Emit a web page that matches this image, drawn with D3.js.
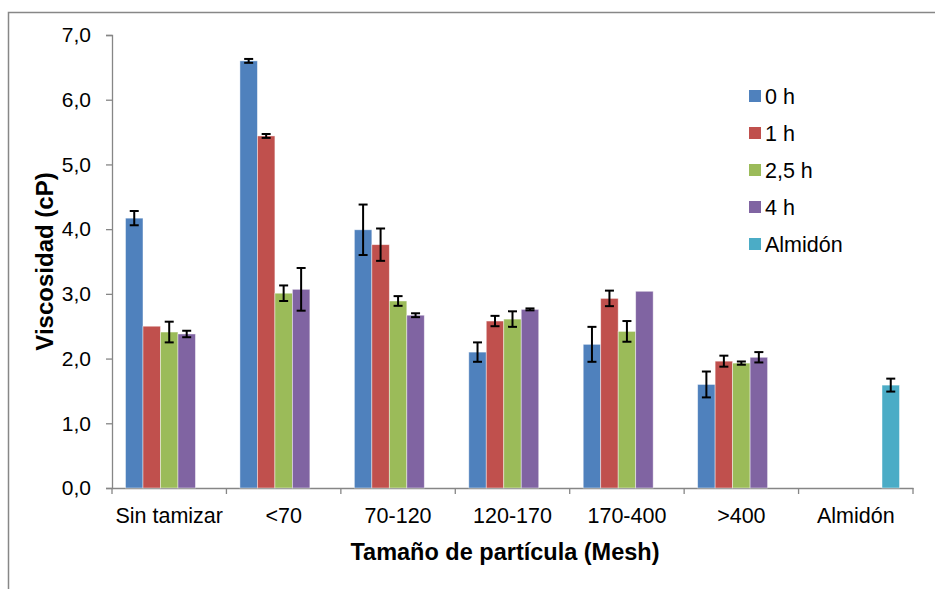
<!DOCTYPE html>
<html>
<head>
<meta charset="utf-8">
<script src="https://cdn.jsdelivr.net/npm/d3@7"></script>
<style>
  body { margin: 0; background: #fff; }
  svg { display: block; font-family: Arial, "Liberation Sans", sans-serif; }
</style>
</head>
<body>
<div id="chart"></div>
<script>
// categories and series
const categories = ["Sin tamizar", "<70", "70-120", "120-170", "170-400", ">400", "Almidón"];
const seriesNames = ["0 h", "1 h", "2,5 h", "4 h", "Almidón"];
const seriesColors = ["#4F81BD", "#C0504D", "#9BBB59", "#8064A2", "#4BACC6"];

// mean viscosity (cP), one array per series (null = no bar)
const values0h = [4.17, 6.60, 3.99, 2.10, 2.22, 1.60, null];
const values1h = [2.50, 5.44, 3.76, 2.58, 2.93, 1.96, null];
const values25h = [2.41, 3.01, 2.89, 2.61, 2.42, 1.93, null];
const values4h = [2.38, 3.07, 2.67, 2.76, 3.04, 2.02, null];
const valuesAlmidon = [null, null, null, null, null, null, 1.59];

// error (+/-)
const err0h = [0.11, 0.03, 0.39, 0.15, 0.27, 0.20, null];
const err1h = [0, 0.03, 0.25, 0.08, 0.12, 0.085, null];
const err25h = [0.16, 0.12, 0.075, 0.12, 0.16, 0.025, null];
const err4h = [0.05, 0.33, 0.03, 0.015, 0, 0.08, null];
const errAlmidon = [null, null, null, null, null, null, 0.10];

const yTicks = [0, 1, 2, 3, 4, 5, 6, 7];

(function drawChart() {
  const width = 935;
  const height = 589;
  const plot = { left: 112, right: 913, top: 35, bottom: 488 };

  const allValues = [values0h, values1h, values25h, values4h, valuesAlmidon];
  const allErrors = [err0h, err1h, err25h, err4h, errAlmidon];

  // flatten into one row per bar
  const bars = [];
  seriesNames.forEach((s, si) => {
    categories.forEach((c, ci) => {
      const v = allValues[si][ci];
      if (v == null) return;
      bars.push({ series: s, category: c, value: v, err: allErrors[si][ci], color: seriesColors[si] });
    });
  });

  const svg = d3.select("#chart")
    .append("svg")
    .attr("width", width)
    .attr("height", height);

  // outer frame of the chart area (runs off the right and bottom)
  svg.append("rect")
    .attr("x", 8.5)
    .attr("y", 12.5)
    .attr("width", 940)
    .attr("height", 600)
    .attr("fill", "none")
    .attr("stroke", "#878787")
    .attr("stroke-width", 1.5);

  const x0 = d3.scaleBand()
    .domain(categories)
    .range([plot.left, plot.right])
    .padding(0);

  const gap = 13.5;
  const x1 = d3.scaleBand()
    .domain(seriesNames)
    .range([gap, x0.bandwidth() - gap])
    .padding(0);

  const y = d3.scaleLinear()
    .domain([0, 7])
    .range([plot.bottom, plot.top]);

  const fmt = (d) => d3.format(".1f")(d).replace(".", ",");

  // y axis
  const yAxis = svg.append("g")
    .attr("transform", `translate(${plot.left},0)`)
    .call(d3.axisLeft(y).tickValues(yTicks).tickFormat(fmt).tickSize(6).tickPadding(15));
  yAxis.selectAll("text")
    .style("font-size", "21px")
    .attr("fill", "#000");

  // x axis
  const xAxis = svg.append("g")
    .attr("transform", `translate(0,${plot.bottom})`)
    .call(d3.axisBottom(x0).tickSize(0).tickPadding(20));
  xAxis.selectAll("text")
    .style("font-size", "21.5px")
    .attr("fill", "#000");
  // tick marks sit between categories
  xAxis.selectAll(".sep")
    .data(categories.concat(["end"]))
    .join("line")
    .attr("class", "sep")
    .attr("x1", (d, i) => plot.left + i * x0.step())
    .attr("x2", (d, i) => plot.left + i * x0.step())
    .attr("y1", 0)
    .attr("y2", 6);

  svg.selectAll(".domain, .tick line, .sep")
    .attr("stroke", "#868686")
    .attr("stroke-width", 1.3);

  // bars
  svg.selectAll(".bar")
    .data(bars)
    .join("rect")
    .attr("class", "bar")
    .attr("x", (d) => x0(d.category) + x1(d.series))
    .attr("y", (d) => y(d.value))
    .attr("width", x1.bandwidth())
    .attr("height", (d) => y(0) - y(d.value))
    .attr("fill", (d) => d.color)
    .attr("stroke", "rgba(255,255,255,0.55)")
    .attr("stroke-width", 0.8);

  // error bars
  const errBars = bars.filter((d) => d.err > 0);
  const capHalf = 4.5;
  const eg = svg.append("g").attr("stroke", "#000").attr("stroke-width", 2);
  errBars.forEach((d) => {
    const cx = x0(d.category) + x1(d.series) + x1.bandwidth() / 2;
    const yTop = y(d.value + d.err);
    const yBot = y(d.value - d.err);
    eg.append("line").attr("x1", cx).attr("x2", cx).attr("y1", yTop).attr("y2", yBot);
    eg.append("line").attr("x1", cx - capHalf).attr("x2", cx + capHalf).attr("y1", yTop).attr("y2", yTop);
    eg.append("line").attr("x1", cx - capHalf).attr("x2", cx + capHalf).attr("y1", yBot).attr("y2", yBot);
  });

  // axis titles
  svg.append("text")
    .attr("transform", `translate(53,${(plot.top + plot.bottom) / 2}) rotate(-90)`)
    .attr("text-anchor", "middle")
    .style("font-size", "24px")
    .style("font-weight", "bold")
    .text("Viscosidad (cP)");

  svg.append("text")
    .attr("x", 505)
    .attr("y", 560)
    .attr("text-anchor", "middle")
    .style("font-size", "23.5px")
    .style("font-weight", "bold")
    .text("Tamaño de partícula (Mesh)");

  // legend
  const legend = svg.append("g").attr("transform", "translate(749,96)");
  const items = legend.selectAll("g")
    .data(seriesNames)
    .join("g")
    .attr("transform", (d, i) => `translate(0,${i * 37})`);
  items.append("rect")
    .attr("x", 0)
    .attr("y", -6)
    .attr("width", 12)
    .attr("height", 12)
    .attr("fill", (d, i) => seriesColors[i]);
  items.append("text")
    .attr("x", 16)
    .attr("y", 0)
    .attr("dy", "0.36em")
    .style("font-size", "21.5px")
    .text((d) => d);
})();
</script>
</body>
</html>
